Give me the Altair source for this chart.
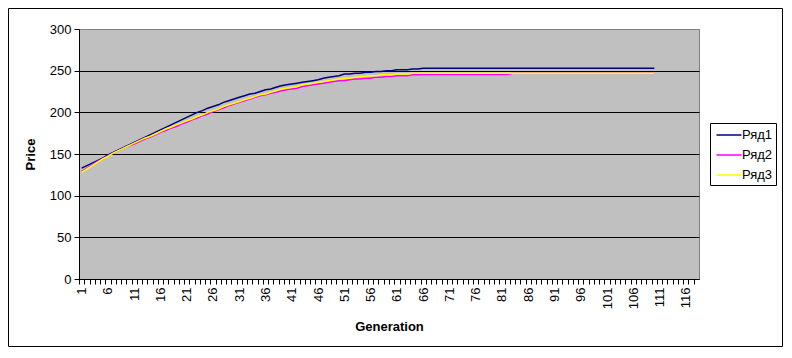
import altair as alt
import pandas as pd

generations = list(range(1, 111))

ryad1 = [133, 136, 139, 142, 145, 149, 152, 155, 158, 161,
         164, 167, 170, 173, 176, 179, 182, 185, 188, 191,
         194, 197, 200, 202, 205, 207, 209, 212, 214, 216,
         218, 220, 222, 223, 225, 227, 228, 230, 232, 233,
         234, 235, 236, 237, 238, 239, 241, 242, 243, 244,
         246, 246, 247, 247, 248, 248, 249, 249, 250, 250,
         251, 251, 251, 252, 252, 253, 253, 253, 253, 253,
         253, 253, 253, 253, 253, 253, 253, 253, 253, 253,
         253, 253, 253, 253, 253, 253, 253, 253, 253, 253,
         253, 253, 253, 253, 253, 253, 253, 253, 253, 253,
         253, 253, 253, 253, 253, 253, 253, 253, 253, 253]

ryad2 = [129, 133, 137, 141, 144, 148, 151, 154, 157, 160,
         162, 165, 168, 170, 173, 176, 178, 181, 183, 186,
         188, 191, 193, 196, 198, 201, 203, 205, 208, 210,
         212, 214, 216, 218, 220, 221, 223, 224, 226, 227,
         228, 229, 231, 232, 233, 234, 235, 236, 237, 238,
         238, 239, 240, 240, 241, 241, 242, 242, 243, 243,
         244, 244, 244, 245, 245, 245.5, 245.5, 245.5, 245.5, 245.5,
         245.5, 245.5, 245.5, 245.5, 245.5, 245.5, 245.5, 245.5, 245.5, 245.5,
         245.5, 245.5, 247, 247, 247, 247, 247, 247, 247, 247,
         247, 247, 247, 247, 247, 247, 247, 247, 247, 247,
         247, 247, 247, 247, 247, 247, 247, 247, 247, 247]

ryad3 = [128, 132, 136, 140, 144, 147, 151, 154, 157, 160,
         163, 166, 169, 171, 174, 177, 180, 182, 185, 187,
         190, 192, 195, 197, 200, 202, 204, 207, 209, 211,
         213, 215, 217, 219, 221, 222, 224, 226, 228, 229,
         230, 231, 233, 234, 235, 236, 237, 238, 239, 240,
         241, 241, 242, 243, 243, 244, 244, 245, 245, 245,
         246, 246, 246, 247, 247, 247, 247, 247, 247, 247,
         247, 247, 247, 247, 247, 247, 247, 247, 247, 247,
         247, 247, 247, 247, 247, 247, 247, 247, 247, 247,
         247, 247, 247, 247, 247, 247, 247, 247, 247, 247,
         247, 247, 247, 247, 247, 247, 247, 247, 247, 247]

series_names = ["Ряд1", "Ряд2", "Ряд3"]
series_colors = ["#000080", "#FF00FF", "#FFFF00"]
x_ticks = list(range(1, 119))
y_ticks = [0, 50, 100, 150, 200, 250, 300]

rows = []
for name, vals in zip(series_names, [ryad1, ryad2, ryad3]):
    for g, v in zip(generations, vals):
        rows.append({"Generation": g, "Price": v, "Series": name})
df = pd.DataFrame(rows)

W, H = 620, 250
band = W / len(x_ticks)
FONT = "Arial, Liberation Sans"

lines = alt.Chart(df).mark_line(strokeWidth=1.5).encode(
    x=alt.X(
        "Generation:Q",
        scale=alt.Scale(domain=[0.5, len(x_ticks) + 0.5], nice=False, zero=False),
        axis=alt.Axis(
            values=x_ticks,
            labelExpr="(datum.value - 1) % 5 == 0 ? datum.label : ''",
            labelAngle=-90,
            labelOverlap=False,
            labelFlush=False,
            labelBound=False,
            tickOffset=-band / 2,
            labelOffset=band / 2,
            tickSize=5,
            labelPadding=3,
            grid=False,
            title="Generation",
            titlePadding=12,
        ),
    ),
    y=alt.Y(
        "Price:Q",
        scale=alt.Scale(domain=[0, 300], nice=False),
        axis=alt.Axis(
            values=y_ticks,
            grid=True,
            gridColor={"condition": {"test": "datum.value == 300", "value": "#808080"}, "value": "#000000"},
            tickSize=5,
            labelPadding=3,
            title="Price",
            titlePadding=12,
        ),
    ),
    color=alt.Color(
        "Series:N",
        scale=alt.Scale(domain=series_names, range=series_colors),
        legend=alt.Legend(
            title=None,
            orient="none",
            legendX=631,
            legendY=94,
            strokeColor="#000000",
            fillColor="#FFFFFF",
            padding=3,
            symbolType="M-1.5625,0H1.5625",
            symbolSize=256,
            symbolStrokeWidth=1.5,
            symbolOffset=7,
            rowPadding=4,
            labelFont=FONT,
            labelFontSize=13,
            labelColor="#000000",
            labelOffset=4,
        ),
    ),
)

frame = alt.Chart(pd.DataFrame({"k": [0]})).mark_rect(
    fill="transparent", stroke="#000000", strokeWidth=1
).encode(
    x=alt.value(-70.5), x2=alt.value(703.5), y=alt.value(-20.5), y2=alt.value(317.5)
)

chart = alt.layer(lines, frame).properties(
    width=W,
    height=H,
    autosize=alt.AutoSizeParams(type="none"),
    padding={"left": 71, "top": 21, "right": 85, "bottom": 69},
).configure_view(
    fill="#C0C0C0", stroke="#808080", strokeWidth=1
).configure_axis(
    domainColor="#000000",
    tickColor="#000000",
    labelColor="#000000",
    labelFont=FONT,
    labelFontSize=13,
    titleFont=FONT,
    titleFontSize=13,
    titleFontWeight="bold",
    titleColor="#000000",
)

chart.save("out.html", embed_options={"renderer": "svg", "actions": False})
